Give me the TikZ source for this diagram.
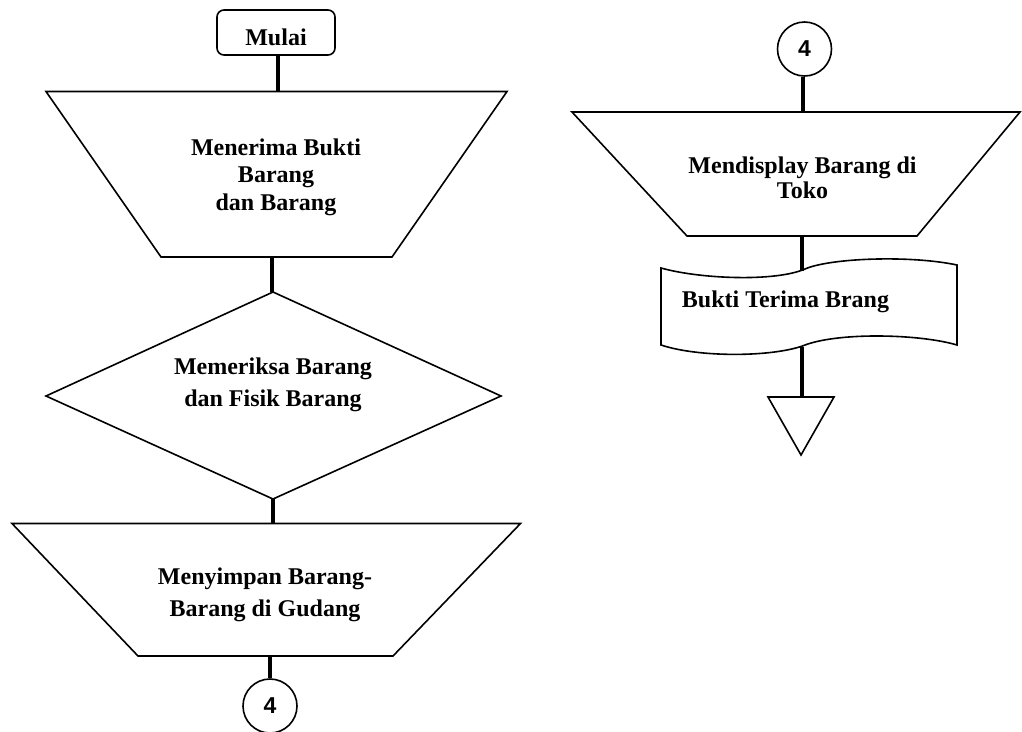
\documentclass[tikz,border=0pt]{standalone}
\usepackage{fontspec}
\setmainfont{Liberation Serif}
\newfontfamily\numfont{Liberation Sans}
\begin{document}
\begin{tikzpicture}[x=1pt,y=-1pt,
  shapeline/.style={draw=black,line width=1.6pt,line join=miter},
  conn/.style={draw=black,line width=3.4pt},
  lbl/.style={font=\fontsize{24}{27.5}\selectfont\bfseries,align=center,inner sep=0pt},
  lblwide/.style={font=\fontsize{24}{32.5}\selectfont\bfseries,align=center,inner sep=0pt},
  lblnarrow/.style={font=\fontsize{24}{25}\selectfont\bfseries,align=center,inner sep=0pt},
  startbox/.style={draw=black,line width=1.6pt,rounded corners=7pt,minimum width=118pt,minimum height=45pt,inner sep=0pt,text height=25pt,text depth=0pt,font=\fontsize{24}{27.5}\selectfont\bfseries},
  connector/.style={circle,draw=black,line width=1.6pt,minimum size=54pt,inner sep=0pt,font=\fontsize{23}{24}\selectfont\numfont\bfseries}]
\useasboundingbox (0,0) rectangle (1022,731);

% ---------- left column ----------
\node[startbox] (mulai) at (276,32.5) {Mulai};

% trapezoid 1
\draw[shapeline] (46,91.5) -- (507,91.5) -- (392,257) -- (161,257) -- cycle;
\coordinate (t1top) at (278,91.5);
\coordinate (t1bot) at (272,257);
\node[lbl] (t1) at (276,177) {Menerima Bukti\\Barang\\dan Barang};

% decision
\draw[shapeline] (273,292) -- (501,396) -- (273,499) -- (46,396) -- cycle;
\coordinate (dtop) at (273,292);
\coordinate (dbot) at (273,499);
\node[lblwide] (d) at (273,385) {Memeriksa Barang\\dan Fisik Barang};

% trapezoid 3
\draw[shapeline] (12,523.5) -- (520.5,523.5) -- (393,656) -- (138,656) -- cycle;
\coordinate (t3top) at (274,523.5);
\coordinate (t3bot) at (270,656);
\node[lblwide] (t3) at (265,595) {Menyimpan Barang-\\Barang di Gudang};

\node[connector] (c1) at (270,706) {4};

\draw[conn] (t1top |- mulai.south) -- (t1top);
\draw[conn] (t1bot) -- (t1bot |- dtop);
\draw[conn] (dbot) -- (dbot |- t3top);
\draw[conn] (t3bot) -- (c1.north);

% ---------- right column ----------
\node[connector] (c2) at (804.5,49) {4};

% trapezoid 2
\draw[shapeline] (572,112) -- (1020,112) -- (917,236) -- (687,236) -- cycle;
\coordinate (t2top) at (803,112);
\coordinate (t2bot) at (802,236);
\node[lblnarrow] (t2) at (802.5,178) {Mendisplay Barang di\\Toko};

% document
\draw[shapeline] (661,268) .. controls (700,279) and (775,282) .. (805,269)
  .. controls (830,258) and (910,255) .. (957,265) -- (957,345)
  .. controls (920,334) and (840,332) .. (805,345)
  .. controls (775,357) and (700,358) .. (661,345) -- cycle;
\coordinate (doctop) at (802,271);
\coordinate (docbot) at (802,346.5);
\node[lbl,anchor=west] (doc) at (681.7,301.5) {Bukti Terima Brang};

% off-page terminator
\draw[shapeline] (768,397) -- (834,397) -- (801,455) -- cycle;
\coordinate (tritop) at (802,397);

\draw[conn] (c2.south -| t2top) -- (t2top);
\draw[conn] (t2bot) -- (doctop);
\draw[conn] (docbot) -- (tritop);
\end{tikzpicture}
\end{document}
